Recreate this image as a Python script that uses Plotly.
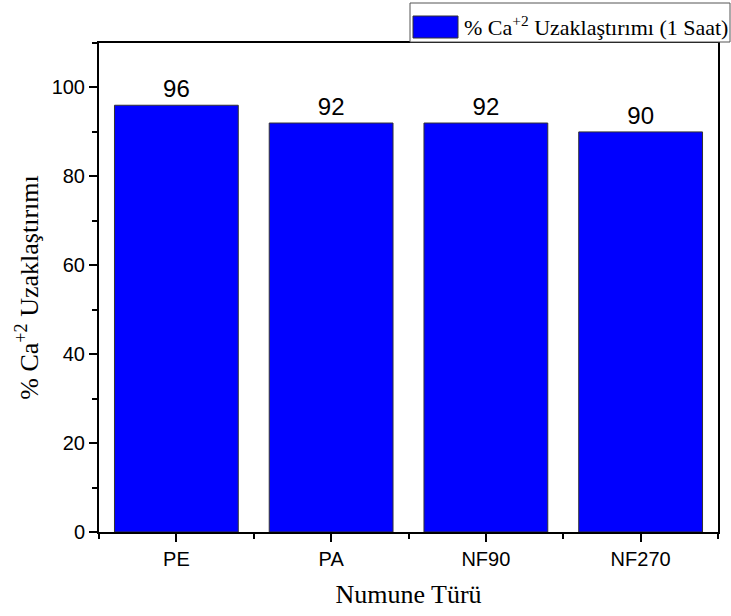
import plotly.graph_objects as go

# Calcium removal after one hour, per membrane sample
categories = ["PE", "PA", "NF90", "NF270"]
removal = [96, 92, 92, 90]
y_ticks = [0, 20, 40, 60, 80, 100]

x_pos = list(range(len(categories)))
BLUE = "#0000FF"
SANS = "Liberation Sans, Arial"
SERIF = "Liberation Serif, Times New Roman"

fig = go.Figure()
fig.add_trace(go.Bar(
    x=x_pos,
    y=removal,
    width=0.8,
    marker=dict(color=BLUE, line=dict(color="#333333", width=1)),
    text=[str(v) for v in removal],
    textposition="outside",
    textfont=dict(family=SANS, size=24, color="black"),
    cliponaxis=False,
    showlegend=False,
))

fig.update_layout(
    width=731, height=616,
    margin=dict(l=99, r=13, t=43, b=84),
    paper_bgcolor="white", plot_bgcolor="white",
    xaxis=dict(
        range=[-0.5, len(categories) - 0.5],
        tickvals=x_pos, ticktext=categories,
        ticks="outside", ticklen=8, tickwidth=2, tickcolor="black",
        minor=dict(tick0=0.5, dtick=1, ticks="outside", ticklen=5,
                   tickwidth=2, tickcolor="black"),
        showline=True, linecolor="black", linewidth=2, mirror=True,
        showgrid=False, zeroline=False,
        tickfont=dict(family=SANS, size=20, color="black"),
        title=dict(text="Numune Türü",
                   font=dict(family=SERIF, size=26, color="black"),
                   standoff=16),
    ),
    yaxis=dict(
        range=[0, 110],
        tickvals=y_ticks,
        ticks="outside", ticklen=8, tickwidth=2, tickcolor="black",
        minor=dict(tick0=10, dtick=20, ticks="outside", ticklen=5,
                   tickwidth=2, tickcolor="black"),
        showline=True, linecolor="black", linewidth=2, mirror=True,
        showgrid=False, zeroline=False,
        tickfont=dict(family=SANS, size=20, color="black"),
        title=dict(text="% Ca<sup>+2</sup> Uzaklaştırımı",
                   font=dict(family=SERIF, size=26, color="black"),
                   standoff=6),
    ),
)

# Legend box in the upper right corner
fig.add_shape(type="rect", xref="paper", yref="paper",
              x0=(410 - 99) / 619, x1=(730 - 99) / 619,
              y0=(532 - 42) / 489, y1=(532 - 3) / 489,
              fillcolor="white", line=dict(color="#555555", width=1), layer="above")
fig.add_shape(type="rect", xref="paper", yref="paper",
              x0=(413 - 99) / 619, x1=(458 - 99) / 619,
              y0=(532 - 38) / 489, y1=(532 - 16) / 489,
              fillcolor=BLUE, line=dict(color="#333333", width=1), layer="above")
fig.add_annotation(xref="paper", yref="paper",
                   x=(462 - 99) / 619, y=(532 - 26) / 489,
                   xanchor="left", yanchor="middle", showarrow=False,
                   text="% Ca<sup>+2</sup> Uzaklaştırımı (1 Saat)",
                   font=dict(family=SERIF, size=22, color="black"))

fig.write_html("out.html")
